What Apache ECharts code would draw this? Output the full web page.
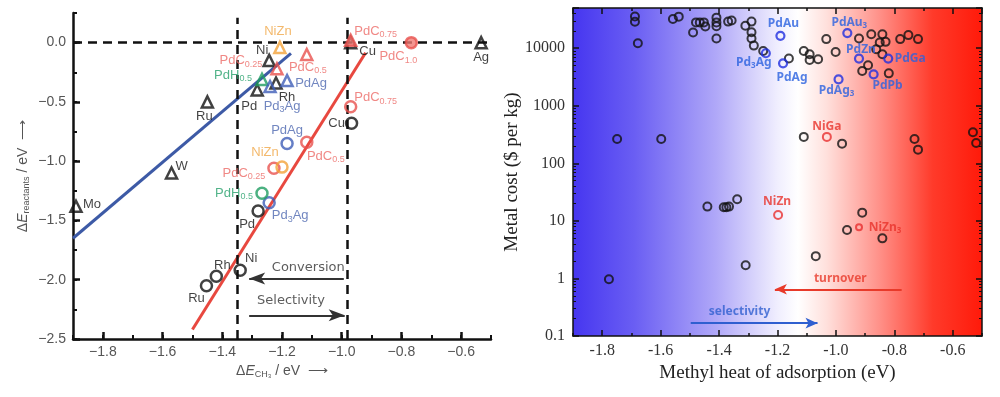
<!DOCTYPE html>
<html>
<head>
<meta charset="utf-8">
<script src="https://cdn.jsdelivr.net/npm/echarts@6/dist/echarts.min.js"></script>
<style>
  html, body { margin: 0; padding: 0; background: #fff; }
  #main { width: 1000px; height: 397px; }
</style>
</head>
<body>
<div id="main"></div>
<script>
// ---- left panel: ΔE_reactants vs ΔE_CH3 ----
const triNames = ['Mo', 'W', 'Ru', 'Pd', 'Rh', 'Ni', 'Cu', 'Ag', 'NiZn', 'PdC0.25', 'PdC0.5', 'PdC0.75', 'PdH0.5', 'PdAg', 'Pd3Ag']
const triX = [-1.89, -1.57, -1.45, -1.283, -1.22, -1.243, -0.97, -0.533, -1.207, -1.217, -1.117, -0.97, -1.267, -1.183, -1.24]
const triY = [-1.38, -1.10, -0.50, -0.40, -0.34, -0.15, 0.0, 0.0, -0.04, -0.22, -0.10, 0.02, -0.31, -0.32, -0.37]

const cirNames = ['Ru', 'Rh', 'Ni', 'Pd', 'Pd3Ag', 'PdH0.5', 'PdC0.25', 'NiZn', 'PdAg', 'PdC0.5', 'Cu', 'PdC0.75', 'PdC1.0']
const cirX = [-1.453, -1.42, -1.34, -1.28, -1.243, -1.267, -1.227, -1.2, -1.183, -1.117, -0.967, -0.97, -0.767]
const cirY = [-2.05, -1.97, -1.92, -1.42, -1.35, -1.27, -1.06, -1.05, -0.85, -0.84, -0.68, -0.54, 0.0]

const blueFitX = [-1.9, -1.17]
const blueFitY = [-1.65, -0.09]
const redFitX = [-1.5, -0.92]
const redFitY = [-2.42, -0.085]
const guideX = [-1.35, -0.98]

// ---- right panel: metal cost vs methyl heat of adsorption ----
const costX = [-1.688, -1.688, -1.678, -1.558, -1.538, -1.489, -1.479, -1.466, -1.452, -1.447,
  -1.409, -1.409, -1.409, -1.409, -1.369, -1.357, -1.310, -1.289, -1.289, -1.289,
  -1.281, -1.249, -1.161, -1.110, -1.090, -1.090, -1.061, -1.033, -1.001, -0.921,
  -0.910, -0.890, -0.879, -0.862, -0.850, -0.841, -0.830, -0.841, -0.819, -0.780,
  -0.752, -0.719, -1.749, -1.598, -1.110, -0.979, -0.731, -0.719, -0.531, -0.520,
  -1.440, -1.384, -1.375, -1.366, -1.338, -1.777, -1.309, -0.910, -0.962, -0.841, -1.069]
const costY = [35700, 28800, 12200, 32100, 35400, 18800, 28100, 28100, 28100, 23900,
  34000, 28100, 24200, 14800, 29000, 30400, 24500, 29000, 19000, 14800,
  11100, 8970, 6610, 8970, 7860, 6250, 6430, 14400, 8610, 14800,
  4020, 5050, 17500, 9620, 12600, 17500, 12900, 7860, 3660, 14400,
  16900, 14400, 265, 265, 288, 220, 265, 173, 346, 226,
  17.7, 17.3, 17.3, 17.7, 23.8, 0.97, 1.70, 13.9, 6.93, 4.97, 2.44]

const alloyNames = ['Pd3Ag', 'PdAu', 'PdAg', 'PdAg3', 'PdAu3', 'PdZn', 'PdPb', 'PdGa']
const alloyX = [-1.240, -1.190, -1.181, -0.991, -0.961, -0.921, -0.871, -0.821]
const alloyY = [8180, 16400, 5470, 2880, 18300, 6610, 3520, 6610]

const niNames = ['NiGa', 'NiZn', 'NiZn3']
const niX = [-1.031, -1.198, -0.921]
const niY = [288, 12.7, 7.73]

// label placement (pixel offsets of the text centre from the marker)
const triLabelOff = [[16, -2], [10, -7], [-3, 15], [-8, 16], [11, 14], [-7, -10], [17, 9], [0, 15], [-2, -16], [-36, -8], [1, 13], [25, -9], [-29, -4], [24, 3], [12, 20]]
const cirLabelOff = [[-10, 13], [6, -11], [11, -12], [-11, 13], [21, 13], [-28, 0], [-30, 5], [-17, -15], [0, -13], [19, 14], [-15, 0], [25, -9], [-13, 14]]
const alloyLabelOff = [[-12, 9], [3, -12], [9, 14], [-2, 11], [2, -11], [2, -9], [14, 11], [22, 0]]
const niLabelOff = [[0, -10], [-1, -13], [26, 0]]

const PAL = {
  black: ['#111', '#111'],
  red: ['#e9514d', '#ec6a66'],
  green: ['#1f9d62', '#27a06c'],
  blue: ['#3f5eb8', '#4d68b0'],
  orange: ['#f2a33a', '#f0a848']
}
function tone (name) {
  if (/^PdC/.test(name)) return PAL.red
  if (/^PdH/.test(name)) return PAL.green
  if (name === 'NiZn') return PAL.orange
  if (/^Pd\d?Ag/.test(name)) return PAL.blue
  return PAL.black
}
const subName = n => n.replace(/(\d+(\.\d+)?)/g, '{s|$1}')
const minus = v => (v < 0 ? '\u2212' : '') + Math.abs(v).toFixed(1)

const subRich = (size) => ({ s: { fontSize: size, fontFamily: 'Liberation Sans', padding: [7, 0, 0, 0] } })
const subRichB = (size) => ({ s: { fontSize: size, fontFamily: 'Noto Sans', fontWeight: 'bold', padding: [7, 0, 0, 0] } })

function leftItems (names, xs, ys, offs, filled) {
  return names.map((n, i) => {
    const t = tone(n)
    const solid = filled.indexOf(n) >= 0
    return {
      name: n,
      value: [xs[i], ys[i]],
      itemStyle: { color: solid ? '#f07a74' : 'rgba(255,255,255,0)', borderColor: t[0], borderWidth: 2.5 },
      label: { offset: offs[i], color: t[1] }
    }
  })
}

const leftLabel = {
  show: true, position: 'inside', align: 'center', verticalAlign: 'middle',
  fontSize: 13, fontFamily: 'Liberation Sans',
  formatter: p => subName(p.name), rich: subRich(9)
}
const rightLabel = {
  show: true, position: 'inside', align: 'center', verticalAlign: 'middle',
  fontSize: 12, fontFamily: 'Noto Sans', fontWeight: 'bold',
  formatter: p => subName(p.name), rich: subRichB(8)
}

const axisBlack = { lineStyle: { color: '#111', width: 2.5 }, onZero: false }
const noSplit = { show: false }

const rightTickFont = { color: '#333', fontSize: 16, fontFamily: 'Liberation Serif' }

const myChart = echarts.init(document.getElementById('main'), null, { renderer: 'canvas' })

myChart.setOption({
  animation: false,
  grid: [
    { left: 73, top: 13, width: 418, height: 326 },
    {
      left: 573, top: 8, width: 409, height: 328, show: true, borderWidth: 0,
      backgroundColor: {
        type: 'linear', x: 0, y: 0, x2: 1, y2: 0,
        colorStops: [
          { offset: 0, color: '#4636f0' },
          { offset: 0.15, color: '#6a5ef3' },
          { offset: 0.35, color: '#b0a8f8' },
          { offset: 0.5, color: '#f0eefe' },
          { offset: 0.55, color: '#ffffff' },
          { offset: 0.62, color: '#ffe0dc' },
          { offset: 0.75, color: '#ff9088' },
          { offset: 0.88, color: '#ff3a2a' },
          { offset: 1, color: '#ff1a0a' }
        ]
      }
    }
  ],
  xAxis: [
    {
      type: 'value', gridIndex: 0, min: -1.9, max: -0.5, splitNumber: 7, position: 'bottom',
      axisLine: axisBlack,
      axisTick: { inside: true, length: 7, lineStyle: { color: '#111', width: 2.5 } },
      axisLabel: { formatter: minus, color: '#555', fontSize: 14, fontFamily: 'Liberation Sans', margin: 6, showMinLabel: false, showMaxLabel: false },
      splitLine: noSplit,
      name: '{n|\u0394}{i|E}{s|CH\u2083}{n| / eV  \u27f6}', nameLocation: 'middle', nameGap: 24,
      nameTextStyle: {
        color: '#555',
        rich: {
          n: { fontSize: 14, fontFamily: 'Liberation Sans', color: '#555' },
          i: { fontSize: 14, fontFamily: 'Liberation Sans', fontStyle: 'italic', color: '#555' },
          s: { fontSize: 9, fontFamily: 'Liberation Sans', color: '#555', padding: [7, 0, 0, 0] }
        }
      }
    },
    {
      type: 'value', gridIndex: 0, min: -1.9, max: -0.5, interval: 0.1, position: 'bottom',
      axisLine: { show: false, onZero: false },
      axisTick: { inside: true, length: 4, lineStyle: { color: '#111', width: 2 } },
      axisLabel: { show: false }, splitLine: noSplit
    },
    {
      type: 'value', gridIndex: 1, min: -1.9, max: -0.5, splitNumber: 7, position: 'bottom',
      axisLine: { lineStyle: { color: '#111', width: 1.5 }, onZero: false },
      axisTick: { inside: true, length: 6, lineStyle: { color: '#111', width: 1.5 } },
      axisLabel: Object.assign({ formatter: v => v.toFixed(1), margin: 7, showMinLabel: false, showMaxLabel: false }, rightTickFont),
      splitLine: noSplit,
      name: 'Methyl heat of adsorption (eV)', nameLocation: 'middle', nameGap: 27,
      nameTextStyle: { color: '#222', fontSize: 19, fontFamily: 'Liberation Serif' }
    },
    {
      type: 'value', gridIndex: 1, min: -1.9, max: -0.5, interval: 0.1, position: 'bottom',
      axisLine: { show: false, onZero: false },
      axisTick: { inside: true, length: 3, lineStyle: { color: '#111', width: 1.5 } },
      axisLabel: { show: false }, splitLine: noSplit
    },
    {
      type: 'value', gridIndex: 1, min: -1.9, max: -0.5, splitNumber: 7, position: 'top',
      axisLine: { lineStyle: { color: '#111', width: 1.5 }, onZero: false },
      axisTick: { inside: true, length: 6, lineStyle: { color: '#111', width: 1.5 } },
      axisLabel: { show: false }, splitLine: noSplit
    },
    {
      type: 'value', gridIndex: 1, min: -1.9, max: -0.5, interval: 0.1, position: 'top',
      axisLine: { show: false, onZero: false },
      axisTick: { inside: true, length: 3, lineStyle: { color: '#111', width: 1.5 } },
      axisLabel: { show: false }, splitLine: noSplit
    }
  ],
  yAxis: [
    {
      type: 'value', gridIndex: 0, min: -2.5, max: 0.25, interval: 0.5, position: 'left',
      axisLine: axisBlack,
      axisTick: { inside: true, length: 7, lineStyle: { color: '#111', width: 2.5 } },
      axisLabel: { formatter: minus, color: '#555', fontSize: 14, fontFamily: 'Liberation Sans', margin: 7, showMaxLabel: false },
      splitLine: noSplit,
      name: '{n|\u0394}{i|E}{s|reactants}{n| / eV  \u27f6}', nameLocation: 'middle', nameGap: 42,
      nameTextStyle: {
        color: '#555',
        rich: {
          n: { fontSize: 14, fontFamily: 'Liberation Sans', color: '#555' },
          i: { fontSize: 14, fontFamily: 'Liberation Sans', fontStyle: 'italic', color: '#555' },
          s: { fontSize: 9, fontFamily: 'Liberation Sans', color: '#555', padding: [7, 0, 0, 0] }
        }
      }
    },
    {
      type: 'value', gridIndex: 0, min: -2.5, max: 0.25, interval: 0.25, position: 'left',
      axisLine: { show: false, onZero: false },
      axisTick: { inside: true, length: 4, lineStyle: { color: '#111', width: 2 } },
      axisLabel: { show: false }, splitLine: noSplit
    },
    {
      type: 'log', logBase: 10, gridIndex: 1, min: 0.1, max: 50000, position: 'left',
      axisLine: { lineStyle: { color: '#111', width: 1.5 }, onZero: false },
      axisTick: { inside: true, length: 6, lineStyle: { color: '#111', width: 1.5 } },
      minorTick: { show: true, splitNumber: 9, length: 3, lineStyle: { color: '#111', width: 1 } },
      axisLabel: Object.assign({ formatter: v => String(Number(v.toPrecision(6))), margin: 8, showMaxLabel: false }, rightTickFont),
      splitLine: noSplit, minorSplitLine: { show: false },
      name: 'Metal cost ($ per kg)', nameLocation: 'middle', nameGap: 47,
      nameTextStyle: { color: '#222', fontSize: 19, fontFamily: 'Liberation Serif' }
    },
    {
      type: 'log', logBase: 10, gridIndex: 1, min: 0.1, max: 50000, position: 'right',
      axisLine: { lineStyle: { color: '#111', width: 1.5 }, onZero: false },
      axisTick: { inside: true, length: 6, lineStyle: { color: '#111', width: 1.5 } },
      minorTick: { show: true, splitNumber: 9, length: 3, lineStyle: { color: '#111', width: 1 } },
      axisLabel: { show: false }, splitLine: noSplit, minorSplitLine: { show: false }
    }
  ],
  series: [
    // left: fit lines
    {
      type: 'line', xAxisIndex: 0, yAxisIndex: 0, silent: true, showSymbol: false, z: 2,
      data: blueFitX.map((x, i) => [x, blueFitY[i]]),
      lineStyle: { color: '#3d5aa6', width: 3 }
    },
    {
      type: 'line', xAxisIndex: 0, yAxisIndex: 0, silent: true, showSymbol: false, z: 2,
      data: redFitX.map((x, i) => [x, redFitY[i]]),
      lineStyle: { color: '#e8483f', width: 3 }
    },
    // left: dashed guides
    {
      type: 'line', xAxisIndex: 0, yAxisIndex: 0, silent: true, data: [], z: 1,
      markLine: {
        silent: true, symbol: ['none', 'none'], label: { show: false },
        lineStyle: { color: '#111', width: 2.5, type: [9, 6] },
        data: [[{ coord: [-1.9, 0] }, { coord: [-0.5, 0] }]].concat(
          guideX.map(x => [{ coord: [x, -2.5] }, { coord: [x, 0.21] }]))
      }
    },
    // left: arrows
    {
      type: 'line', xAxisIndex: 0, yAxisIndex: 0, silent: true, data: [], z: 3,
      markLine: {
        silent: true, symbol: ['none', 'arrow'], symbolSize: [9, 16], label: { show: false },
        lineStyle: { color: '#333', width: 2, type: 'solid' },
        data: [
          [{ coord: [-0.993, -1.99] }, { coord: [-1.31, -1.99] }],
          [{ coord: [-1.31, -2.30] }, { coord: [-0.99, -2.30] }]
        ]
      }
    },
    {
      type: 'scatter', xAxisIndex: 0, yAxisIndex: 0, symbolSize: 0, silent: true,
      data: [{ name: 'Conversion', value: [-1.112, -1.90] }, { name: 'Selectivity', value: [-1.17, -2.18] }],
      label: { show: true, position: 'inside', formatter: p => p.name, color: '#333', fontSize: 13, fontFamily: 'DejaVu Sans' }
    },
    // left: triangles
    {
      type: 'scatter', xAxisIndex: 0, yAxisIndex: 0, symbol: 'triangle', symbolSize: 11, z: 5,
      data: leftItems(triNames, triX, triY, triLabelOff, ['PdC0.75']),
      label: leftLabel
    },
    // left: circles
    {
      type: 'scatter', xAxisIndex: 0, yAxisIndex: 0, symbol: 'circle', symbolSize: 11, z: 5,
      data: leftItems(cirNames, cirX, cirY, cirLabelOff, ['PdC1.0']),
      label: leftLabel
    },
    // right: arrows
    {
      type: 'line', xAxisIndex: 2, yAxisIndex: 2, silent: true, data: [], z: 3,
      markLine: {
        silent: true, symbol: ['none', 'arrow'], symbolSize: [8, 12], label: { show: false },
        data: [
          [{ coord: [-1.497, 0.167], lineStyle: { color: '#2f5fd0', width: 2, type: 'solid' } }, { coord: [-1.063, 0.167] }],
          [{ coord: [-0.775, 0.648], lineStyle: { color: '#e83a2a', width: 2, type: 'solid' } }, { coord: [-1.209, 0.648] }]
        ]
      }
    },
    {
      type: 'scatter', xAxisIndex: 2, yAxisIndex: 2, symbolSize: 0, silent: true,
      data: [
        { name: 'selectivity', value: [-1.33, 0.268], label: { color: '#2f5fd0' } },
        { name: 'turnover', value: [-0.985, 1.0], label: { color: '#e83a2a' } }
      ],
      label: { show: true, position: 'inside', formatter: p => p.name, fontSize: 12, fontWeight: 'bold', fontFamily: 'Noto Sans' }
    },
    // right: metals and alloys
    {
      type: 'scatter', xAxisIndex: 2, yAxisIndex: 2, symbol: 'circle', symbolSize: 8, z: 4,
      data: costX.map((x, i) => [x, costY[i]]),
      itemStyle: { color: 'rgba(0,0,0,0)', borderColor: '#111', borderWidth: 2 }
    },
    {
      type: 'scatter', xAxisIndex: 2, yAxisIndex: 2, symbol: 'circle', symbolSize: 8, z: 5,
      data: alloyNames.map((n, i) => ({ name: n, value: [alloyX[i], alloyY[i]], label: { offset: alloyLabelOff[i] } })),
      itemStyle: { color: 'rgba(0,0,0,0)', borderColor: '#1f2ee0', borderWidth: 2.2 },
      label: Object.assign({ color: '#2a62e0' }, rightLabel)
    },
    {
      type: 'scatter', xAxisIndex: 2, yAxisIndex: 2, symbol: 'circle', z: 5,
      symbolSize: (v, p) => (p.name === 'NiZn3' ? 6 : 8),
      data: niNames.map((n, i) => ({ name: n, value: [niX[i], niY[i]], label: { offset: niLabelOff[i] } })),
      itemStyle: { color: 'rgba(0,0,0,0)', borderColor: '#e83030', borderWidth: 2 },
      label: Object.assign({ color: '#e8322a' }, rightLabel)
    }
  ]
})
</script>
</body>
</html>
